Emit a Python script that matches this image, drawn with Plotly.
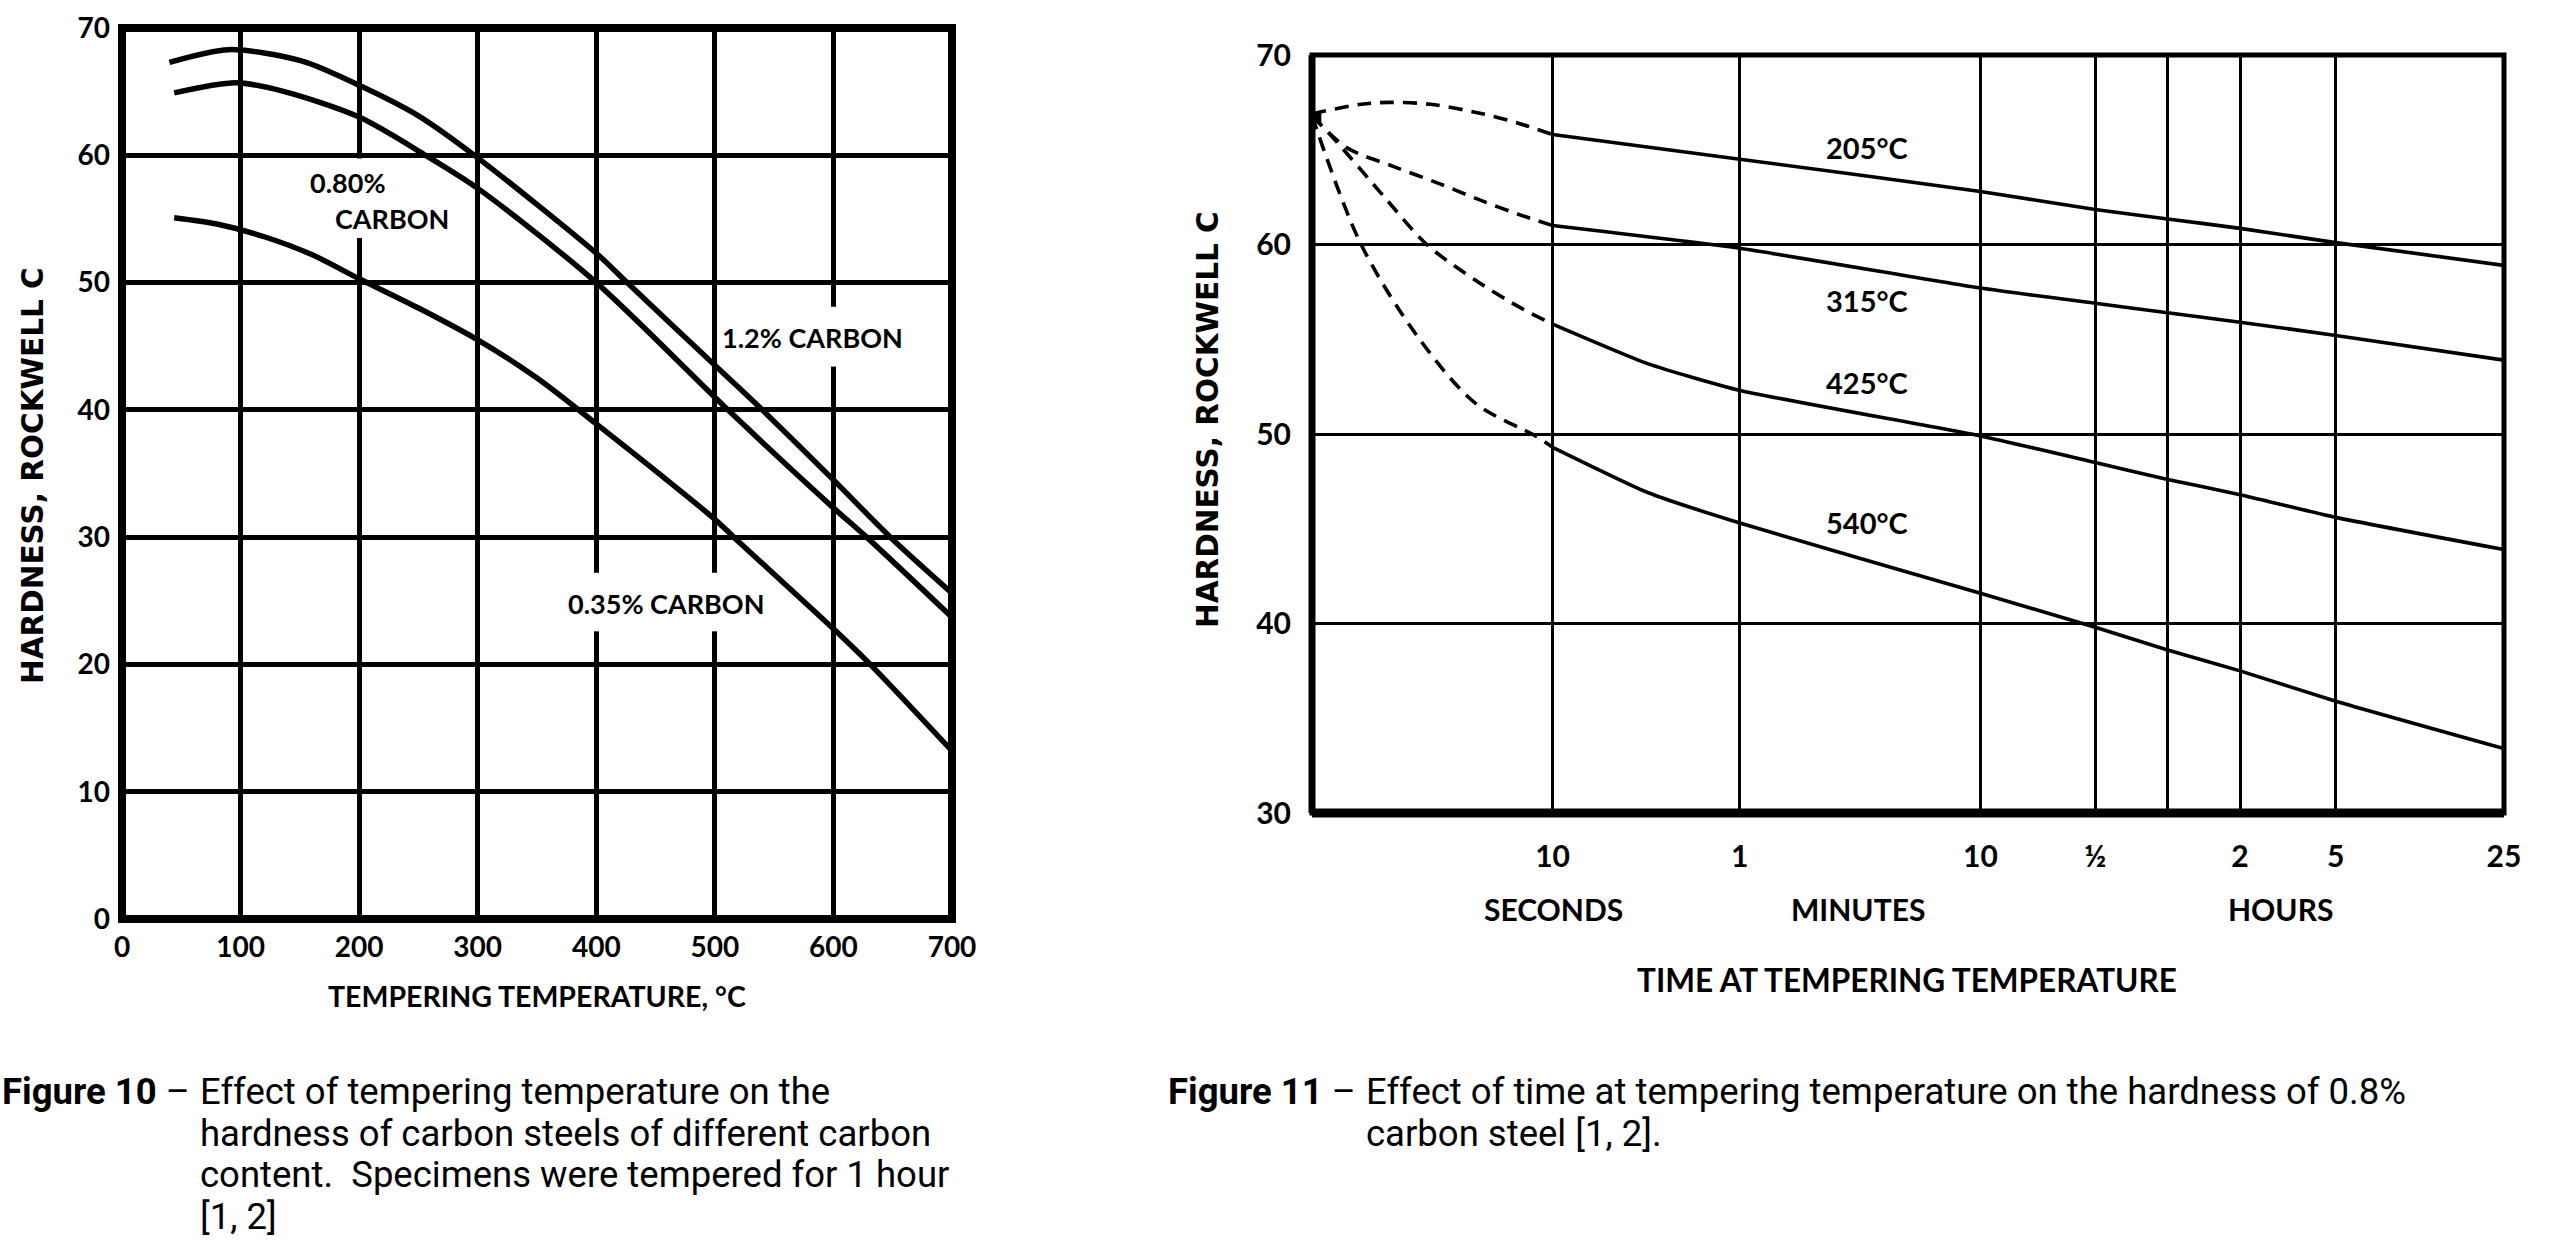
import math
import plotly.graph_objects as go

# ---------------- Figure 10 data (tempering temperature, degC -> HRC) ----------------
temp_ticks = [0, 100, 200, 300, 400, 500, 600, 700]
hrc_ticks_left = [0, 10, 20, 30, 40, 50, 60, 70]

temp_c12 = [40, 90, 152, 200, 250, 300, 400, 426, 500, 540, 600, 648, 700]
hrc_c12 = [67.3, 68.3, 67.4, 65.5, 63.1, 59.8, 52.3, 50.0, 43.5, 40.0, 34.5, 30.0, 25.6]

temp_c08 = [44, 96, 137, 200, 256, 300, 400, 511, 600, 628, 700]
hrc_c08 = [64.9, 65.7, 65.0, 63.0, 60.0, 57.4, 50.0, 40.0, 32.3, 30.0, 23.7]

temp_c035 = [44, 80, 120, 160, 200, 250, 300, 350, 400, 450, 500, 516, 600, 630, 700]
hrc_c035 = [55.1, 54.6, 53.6, 52.2, 50.3, 48.0, 45.5, 42.5, 38.9, 35.2, 31.4, 30.0, 22.8, 20.1, 13.2]

# ---------------- Figure 11 data (time at temperature, seconds -> HRC) ----------------
time_ticks = [10, 60, 600, 1800, 3600, 7200, 18000, 90000]
time_tick_text = ["10", "1", "10", "½", "", "2", "5", "25"]
hrc_ticks_right = [30, 40, 50, 60, 70]

start_time = [1.06]
start_hrc = [66.7]

t205_dash = [1, 1.6, 2.1, 3.1, 5.1, 7.2, 10]
h205_dash = [66.9, 67.4, 67.5, 67.4, 66.9, 66.4, 65.8]
t205 = [10, 60, 600, 1800, 3600, 7200, 18000, 90000]
h205 = [65.8, 64.5, 62.8, 61.85, 61.35, 60.85, 60.1, 58.9]

t315_dash = [1, 1.4, 2.2, 3.4, 5.1, 7.2, 10]
h315_dash = [66.8, 65.1, 64.1, 63.2, 62.3, 61.6, 61.0]
t315 = [10, 60, 600, 1800, 3600, 7200, 18000, 90000]
h315 = [61.0, 59.8, 57.7, 56.9, 56.4, 55.9, 55.2, 53.9]

t425_dash = [1, 1.25, 2.0, 3.0, 4.8, 7.5, 10]
h425_dash = [66.8, 65.5, 62.5, 60.0, 58.1, 56.6, 55.8]
t425 = [10, 25, 60, 600, 1800, 3600, 7200, 18000, 90000]
h425 = [55.8, 53.7, 52.3, 49.9, 48.5, 47.6, 46.8, 45.6, 43.9]

t540_dash = [1, 1.6, 2.8, 4.8, 8.5, 10]
h540_dash = [66.8, 60.0, 55.0, 51.6, 49.9, 49.3]
t540 = [10, 25, 60, 600, 1800, 3600, 7200, 18000, 90000]
h540 = [49.3, 46.9, 45.3, 41.6, 39.8, 38.6, 37.5, 35.9, 33.4]

W, H = 2560, 1249
BLACK = "#000000"


def fx(p):
    return p / W


def fy(p):
    return 1 - p / H


fig = go.Figure()

# Figure 10 curves
for t, h in [(temp_c12, hrc_c12), (temp_c08, hrc_c08), (temp_c035, hrc_c035)]:
    fig.add_trace(go.Scatter(
        x=t, y=h, mode="lines", xaxis="x", yaxis="y",
        line=dict(color=BLACK, width=5.5, shape="spline", smoothing=0.8),
        showlegend=False, hoverinfo="skip"))

# Figure 11 curves
for td, hd, ts, hs in [(t205_dash, h205_dash, t205, h205),
                       (t315_dash, h315_dash, t315, h315),
                       (t425_dash, h425_dash, t425, h425),
                       (t540_dash, h540_dash, t540, h540)]:
    fig.add_trace(go.Scatter(
        x=td, y=hd, mode="lines", xaxis="x2", yaxis="y2",
        line=dict(color=BLACK, width=3.6, dash="14px,9px", shape="spline", smoothing=0.9),
        showlegend=False, hoverinfo="skip", cliponaxis=False))
    fig.add_trace(go.Scatter(
        x=ts, y=hs, mode="lines", xaxis="x2", yaxis="y2",
        line=dict(color=BLACK, width=3.6, shape="spline", smoothing=0.5),
        showlegend=False, hoverinfo="skip"))

fig.add_trace(go.Scatter(
    x=start_time, y=start_hrc, mode="markers", xaxis="x2", yaxis="y2",
    marker=dict(symbol="triangle-left", size=13, color=BLACK),
    showlegend=False, hoverinfo="skip", cliponaxis=False))

tick_font_l = dict(family="Lato", size=28, color=BLACK, weight="bold")
tick_font_r = dict(family="Lato", size=30, color=BLACK, weight="bold")

fig.update_layout(
    width=W, height=H,
    margin=dict(l=0, r=0, t=0, b=0, autoexpand=False),
    paper_bgcolor="white", plot_bgcolor="white",
    showlegend=False,
    xaxis=dict(domain=[fx(122), fx(952)], range=[0, 700], anchor="y", automargin=False,
               tickvals=temp_ticks, ticktext=[str(v) for v in temp_ticks],
               showgrid=True, gridcolor=BLACK, gridwidth=4.5, zeroline=False,
               showline=False, ticks="", tickfont=tick_font_l,
               ticklabelstandoff=9, fixedrange=True),
    yaxis=dict(domain=[fy(919), fy(28)], range=[0, 70], anchor="x", automargin=False,
               tickvals=hrc_ticks_left, ticktext=[str(v) for v in hrc_ticks_left],
               showgrid=True, gridcolor=BLACK, gridwidth=4.5, zeroline=False,
               showline=False, ticks="", tickfont=tick_font_l,
               ticklabelstandoff=11, fixedrange=True),
    xaxis2=dict(type="log", domain=[fx(1312), fx(2504)], range=[0, math.log10(90000) + 1e-4],
                anchor="y2", automargin=False, tickvals=time_ticks, ticktext=time_tick_text,
                showgrid=True, gridcolor=BLACK, gridwidth=3, zeroline=False,
                showline=False, ticks="", tickfont=tick_font_r,
                ticklabelstandoff=23, fixedrange=True),
    yaxis2=dict(domain=[fy(813), fy(55)], range=[30, 70], anchor="x2", automargin=False,
                tickvals=hrc_ticks_right, ticktext=[str(v) for v in hrc_ticks_right],
                showgrid=True, gridcolor=BLACK, gridwidth=3, zeroline=False,
                showline=False, ticks="", tickfont=tick_font_r,
                ticklabelstandoff=20, fixedrange=True),
)

shapes = []
# white gaps in the gridlines behind the curve labels (Figure 10)
for x0, x1, y0, y1 in [(196, 204, 53.5, 59.75), (596, 604, 43.4, 48.1),
                       (396, 404, 22.6, 27.2), (496, 504, 22.6, 27.2)]:
    shapes.append(dict(type="rect", xref="x", yref="y", x0=x0, x1=x1, y0=y0, y1=y1,
                       fillcolor="white", line=dict(width=0), layer="between"))
# frame of Figure 10
shapes.append(dict(type="rect", xref="x domain", yref="y domain", x0=0, x1=1, y0=0, y1=1,
                   line=dict(color=BLACK, width=8)))
# frame of Figure 11
shapes.append(dict(type="rect", xref="x2 domain", yref="y2 domain", x0=0, x1=1, y0=0, y1=1,
                   line=dict(color=BLACK, width=5)))
shapes.append(dict(type="line", xref="x2 domain", yref="y2 domain", x0=0, x1=0, y0=0, y1=1,
                   line=dict(color=BLACK, width=7)))
shapes.append(dict(type="line", xref="x2 domain", yref="y2 domain", x0=0, x1=1, y0=0, y1=0,
                   line=dict(color=BLACK, width=9)))
fig.update_layout(shapes=shapes)

ann = []
lab_l = dict(family="Lato", size=27, color=BLACK, weight="bold")
for txt, x, y in [("0.80%", 191, 57.9), ("CARBON", 228, 55.0),
                  ("1.2% CARBON", 582, 45.7), ("0.35% CARBON", 459, 24.8)]:
    ann.append(dict(text=txt, x=x, y=y, xref="x", yref="y", showarrow=False, font=lab_l,
                    xanchor="center", yanchor="middle"))

lab_r = dict(family="Lato", size=29, color=BLACK, weight="bold")
for txt, y in [("205°C", 65.1), ("315°C", 57.05), ("425°C", 52.7), ("540°C", 45.35)]:
    ann.append(dict(text=txt, x=math.log10(202), y=y, xref="x2", yref="y2", showarrow=False,
                    font=lab_r, xanchor="center", yanchor="middle"))

title_font = dict(family="Lato", size=28.5, color=BLACK, weight="bold")
yt_font = dict(family="DejaVu Sans", size=29.5, color=BLACK, weight="bold")
ann.append(dict(text="TEMPERING TEMPERATURE, °C", x=fx(537), y=fy(996), xref="paper", yref="paper",
                showarrow=False, font=title_font, xanchor="center", yanchor="middle"))
ann.append(dict(text="HARDNESS, ROCKWELL C", x=fx(33), y=fy(476), xref="paper", yref="paper",
                showarrow=False, font=yt_font, textangle=-90, xanchor="center", yanchor="middle"))
ann.append(dict(text="HARDNESS, ROCKWELL C", x=fx(1208), y=fy(420), xref="paper", yref="paper",
                showarrow=False, font=yt_font, textangle=-90, xanchor="center", yanchor="middle"))

unit_font = dict(family="Lato", size=30, color=BLACK, weight="bold")
for txt, x in [("SECONDS", 1553), ("MINUTES", 1858), ("HOURS", 2280)]:
    ann.append(dict(text=txt, x=fx(x), y=fy(909), xref="paper", yref="paper", showarrow=False,
                    font=unit_font, xanchor="center", yanchor="middle"))
ann.append(dict(text="TIME AT TEMPERING TEMPERATURE", x=fx(1907), y=fy(980), xref="paper", yref="paper",
                showarrow=False, font=dict(family="Lato", size=31.5, color=BLACK, weight="bold"),
                xanchor="center", yanchor="middle"))

cap_font = dict(family="Roboto", size=36.5, color=BLACK)
captions = [
    ("<b>Figure 10</b> –", 0, 1091),
    ("Effect of tempering temperature on the", 198, 1091),
    ("hardness of carbon steels of different carbon", 198, 1133),
    ("content.\u00a0 Specimens were tempered for 1 hour", 198, 1174),
    ("[1, 2]", 198, 1216),
    ("<b>Figure 11</b> –", 1166, 1091),
    ("Effect of time at tempering temperature on the hardness of 0.8%", 1364, 1091),
    ("carbon steel [1, 2].", 1364, 1133),
]
for txt, x, y in captions:
    ann.append(dict(text=txt, x=fx(x), y=fy(y), xref="paper", yref="paper", showarrow=False,
                    font=cap_font, xanchor="left", yanchor="middle"))

fig.update_layout(annotations=ann)
fig.write_html("out.html")
